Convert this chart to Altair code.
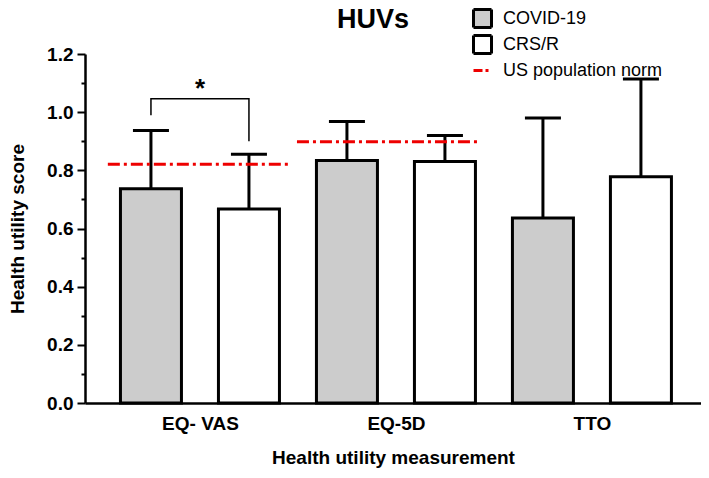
import altair as alt
import pandas as pd

# ---- data ----
categories = ["EQ- VAS", "EQ-5D", "TTO"]
groups = ["COVID-19", "CRS/R"]
covid_mean = [0.737, 0.834, 0.636]
covid_upper = [0.937, 0.968, 0.980]
crs_mean = [0.667, 0.830, 0.778]
crs_upper = [0.855, 0.920, 1.114]
norm_values = [0.821, 0.898]
norm_start = [0.56, 2.49]
norm_end = [2.40, 4.33]
bracket_x = [1, 1, 2, 2]
bracket_y = [0.989, 1.046, 1.046, 0.900]
star_x = [1.5]
star_y = [1.089]
legend_entries = ["COVID-19", "CRS/R", "US population norm"]
y_ticks = [0.0, 0.1, 0.2, 0.3, 0.4, 0.5, 0.6, 0.7, 0.8, 0.9, 1.0, 1.1, 1.2]

# ---- tables ----
rows = []
for i, cat in enumerate(categories):
    for j, (g, m, u) in enumerate(zip(groups, [covid_mean[i], crs_mean[i]], [covid_upper[i], crs_upper[i]])):
        rows.append({"pos": 2 * i + j + 1, "category": cat, "group": g, "mean": m, "upper": u})
bars_df = pd.DataFrame(rows)
norm_df = pd.DataFrame({"start": norm_start, "end": norm_end, "norm": norm_values})
bracket_df = pd.DataFrame({"bx": bracket_x, "by": bracket_y, "i": list(range(len(bracket_x)))})
star_df = pd.DataFrame({"sx": star_x, "sy": star_y})
legend_df = pd.DataFrame({"group": legend_entries})

group_centers = [2 * i + 1.5 for i in range(len(categories))]
label_expr = " : ".join(
    [f"datum.value < {c + 1} ? '{cat}'" for c, cat in zip(group_centers[:-1], categories[:-1])]
) + f" : '{categories[-1]}'"

FONT = "Liberation Sans"

xscale = alt.Scale(domain=[0.327, 6.613], nice=False, zero=False, padding=0)
yscale = alt.Scale(domain=[0, 1.2], nice=False, zero=True, padding=0)

xaxis = alt.Axis(
    values=group_centers, labelExpr=label_expr, ticks=False, tickSize=0, grid=False,
    title="Health utility measurement", domainColor="black", domainWidth=2.5,
    labelFont=FONT, labelFontSize=19, labelFontWeight="bold", labelColor="black",
    labelPadding=11, titleFont=FONT, titleFontSize=19, titleFontWeight="bold",
    titleColor="black", titlePadding=15,
)
yaxis = alt.Axis(
    values=y_ticks,
    labelExpr="round(datum.value*10) % 2 == 0 ? format(datum.value, '.1f') : ''",
    tickSize={"condition": {"test": "round(datum.value*10) % 2 == 1", "value": 4}, "value": 8},
    tickWidth=2, tickColor="black", grid=False, domainColor="black", domainWidth=2.5,
    labelFont=FONT, labelFontSize=19, labelFontWeight="bold", labelColor="black",
    labelPadding=4, title="Health utility score", titleFont=FONT, titleFontSize=19,
    titleFontWeight="bold", titleColor="black", titlePadding=19,
)

fill_scale = alt.Scale(domain=legend_entries, range=["#cccccc", "#ffffff", "transparent"])

base_bars = alt.Chart(bars_df)

legend_layer = alt.Chart(legend_df).transform_filter("false").mark_point(
    filled=True, opacity=1, strokeWidth=3
).encode(
    x=alt.X("pos:Q", scale=xscale, axis=xaxis),
    y=alt.Y("mean:Q", scale=yscale, axis=yaxis),
    fill=alt.Fill("group:N", scale=fill_scale),
    stroke=alt.Stroke("group:N", scale=alt.Scale(domain=legend_entries, range=["black", "black", "#ee0000"])),
    shape=alt.Shape("group:N", scale=alt.Scale(domain=legend_entries, range=["square", "square", "stroke"])),
    strokeDash=alt.StrokeDash("group:N", scale=alt.Scale(domain=legend_entries, range=[[1, 0], [1, 0], [9, 3, 3, 3]])),
    size=alt.Size("group:N", scale=alt.Scale(domain=legend_entries, range=[324, 324, 784])),
)
bars = base_bars.mark_bar(size=61, stroke="black", strokeWidth=3, orient="vertical").encode(
    x=alt.X("pos:Q", scale=xscale, axis=xaxis),
    y=alt.Y("mean:Q", scale=yscale, axis=yaxis, stack=None),
    fill=alt.Fill("group:N", scale=fill_scale),
)
stems = base_bars.mark_rule(color="black", strokeWidth=3).encode(
    x=alt.X("pos:Q", scale=xscale, axis=xaxis),
    y=alt.Y("mean:Q", scale=yscale, axis=yaxis),
    y2="upper:Q",
)
caps = base_bars.mark_tick(orient="horizontal", size=36, thickness=3, color="black", opacity=1).encode(
    x=alt.X("pos:Q", scale=xscale, axis=xaxis),
    y=alt.Y("upper:Q", scale=yscale, axis=yaxis),
)
norms = alt.Chart(norm_df).mark_rule(color="#ee0000", strokeWidth=3, strokeDash=[12, 4, 3, 4]).encode(
    x=alt.X("start:Q", scale=xscale, axis=xaxis),
    x2="end:Q",
    y=alt.Y("norm:Q", scale=yscale, axis=yaxis),
)
bracket = alt.Chart(bracket_df).mark_line(color="black", strokeWidth=1.5).encode(
    x=alt.X("bx:Q", scale=xscale, axis=xaxis),
    y=alt.Y("by:Q", scale=yscale, axis=yaxis),
    order="i:O",
)
star = alt.Chart(star_df).mark_text(text="*", font=FONT, fontSize=26, fontWeight="bold", color="black",
                                    baseline="middle", dy=3).encode(
    x=alt.X("sx:Q", scale=xscale, axis=xaxis),
    y=alt.Y("sy:Q", scale=yscale, axis=yaxis),
)

chart = alt.layer(legend_layer, bars, stems, caps, norms, bracket, star).properties(
    width=616,
    height=349,
    title=alt.Title("HUVs", font=FONT, fontSize=27, fontWeight="bold", color="black",
                    anchor="middle", frame="group", dx=-20, offset=-26),
    autosize=alt.AutoSizeParams(type="none"),
    padding={"left": 77, "top": 46, "right": 0, "bottom": 67},
).configure_view(stroke=None).configure_legend(
    orient="none", legendX=387, legendY=-46, title=None, padding=0,
    labelFont=FONT, labelFontSize=18, labelColor="black", labelOffset=10,
    rowPadding=-8, symbolStrokeWidth=3,
)

chart.save("out.html", embed_options={"renderer": "svg", "actions": False})
